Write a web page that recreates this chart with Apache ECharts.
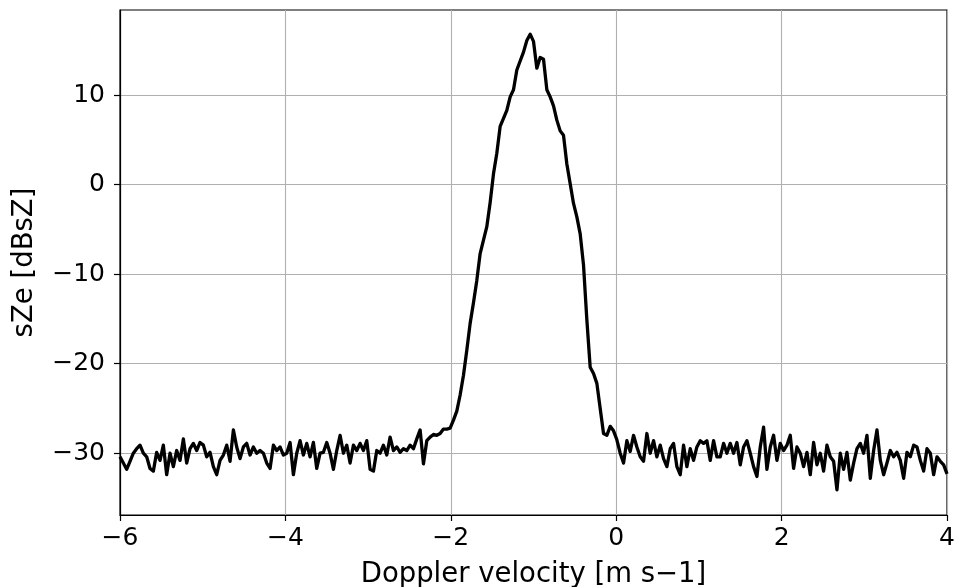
<!DOCTYPE html>
<html>
<head>
  <meta charset="utf-8">
</head>
<body style="margin: 0">
  <div id="container" style="width: 956px; height: 587px"></div>

  <script type="text/javascript" src="https://fastly.jsdelivr.net/npm/echarts@6/dist/echarts.min.js"></script>

  <script type="text/javascript">
    // Doppler spectrum, sampled on a regular velocity grid from vMin to vMax
    var vMin = -6;
    var vMax = 4;

    // spectral reflectivity [dBsZ], left to right
    var sZeNoiseLeft = [
      -30.4, -31.1, -31.8, -30.9, -30.0, -29.5, -29.1, -30.0, -30.4, -31.7, -32.0, -29.9, -30.8, -29.1, -32.4,
      -30.0, -31.5, -29.7, -30.8, -28.4, -31.1, -29.5, -28.9, -29.7, -28.8, -29.1, -30.4, -29.9, -31.5, -32.4,
      -30.8, -30.2, -29.1, -30.9, -27.4, -29.3, -30.6, -29.3, -28.9, -30.2, -29.3, -30.0, -29.7,
      -30.0, -31.1, -31.7, -29.1, -29.7, -29.3, -30.2, -30.0, -28.8, -32.4, -30.0, -28.6, -30.2, -28.9, -30.4,
      -28.8, -31.7, -30.0, -29.9, -28.8, -30.0, -31.8, -29.7, -28.0, -30.0, -29.1, -31.1, -29.1, -29.7, -28.9,
      -29.7, -28.6, -31.8, -32.0, -29.7, -30.0, -29.1, -30.2, -28.2, -29.7, -29.3, -29.9
    ];
    var sZePeak = [
      -29.5, -29.7, -29.1, -29.5, -28.4, -27.4, -31.2, -28.6, -28.2, -27.9, -28.0, -27.8, -27.3, -27.3, -27.2,
      -26.3, -25.3, -23.5,
      -21.3, -18.5, -15.5, -13.2, -10.7, -7.7, -6.2, -4.7, -2.0, 1.2, 3.5, 6.5, 7.4, 8.3, 9.8, 10.6,
      12.8, 13.8, 14.8, 16.1, 16.8, 16.0, 13.0, 14.2, 14.0, 10.6, 9.8, 8.8, 7.2, 6.0, 5.5, 2.3,
      0.1, -2.1, -3.6, -5.5, -9.0, -15.1, -20.4, -21.1, -22.2, -25.0, -27.8, -28.0, -27.0, -27.5, -28.5
    ];
    var sZeNoiseRight = [
      -30.0, -31.1, -28.6, -29.8, -28.0, -29.3, -30.4, -30.9, -27.8, -30.0, -28.6, -30.4, -29.1, -30.6, -31.5,
      -29.5, -28.9, -31.5, -32.4, -29.1, -31.5, -29.5, -30.8, -29.3, -28.6, -28.9, -28.6, -30.8, -28.6, -30.4,
      -30.4, -28.9, -30.0, -28.9, -30.0, -28.8, -31.3, -29.3,
      -28.6, -30.0, -31.5, -32.6, -29.3, -27.1, -31.8, -29.3, -28.0, -30.8, -28.9, -29.7, -29.1, -28.0, -31.7,
      -29.3, -30.0, -31.5, -29.9, -32.4, -28.8, -31.3, -30.0, -32.0, -29.1, -30.4, -30.9, -34.1, -30.0, -31.8,
      -29.9, -33.0, -31.1, -29.5, -28.9, -30.0, -28.0, -32.8, -29.7, -27.4, -30.8, -32.4,
      -31.1, -29.7, -30.4, -29.9, -30.8, -32.8, -29.9, -30.4, -29.1, -29.3, -30.8, -32.0, -29.5, -30.0, -32.4,
      -30.4, -30.9, -31.3, -32.3
    ];

    var xTicks = [-6, -4, -2, 0, 2, 4];
    var yTicks = [-30, -20, -10, 0, 10];

    var sZe = sZeNoiseLeft.concat(sZePeak, sZeNoiseRight);
    var step = (vMax - vMin) / (sZe.length - 1);
    var seriesData = sZe.map(function (v, i) {
      return [vMin + i * step, v];
    });

    function fmt(v) {
      return String(v).replace('-', '\u2212');
    }

    var font = 'DejaVu Sans';
    var dom = document.getElementById('container');
    var myChart = echarts.init(dom, null, { renderer: 'canvas' });

    var option = {
      animation: false,
      backgroundColor: '#ffffff',
      grid: {
        left: 120,
        right: 9,
        top: 10,
        bottom: 72,
        containLabel: false,
        outerBoundsMode: 'none',
        show: true,
        borderColor: '#000000',
        borderWidth: 1.2,
        backgroundColor: 'transparent'
      },
      xAxis: {
        type: 'value',
        min: vMin,
        max: vMax,
        interval: 2,
        name: 'Doppler velocity [m s\u22121]',
        nameLocation: 'middle',
        nameGap: 46,
        nameTextStyle: { fontFamily: font, fontSize: 27.5, color: '#000' },
        axisLine: { show: true, onZero: false, lineStyle: { color: '#000', width: 1.2 } },
        axisTick: { show: true, length: 6, lineStyle: { color: '#000', width: 1.2 }, customValues: xTicks },
        axisLabel: {
          margin: 11,
          fontFamily: font,
          fontSize: 25,
          color: '#000',
          showMinLabel: true,
          showMaxLabel: true,
          customValues: xTicks,
          formatter: fmt
        },
        splitLine: { show: true, lineStyle: { color: '#b0b0b0', width: 1.1 } }
      },
      yAxis: {
        type: 'value',
        min: -36.9,
        max: 19.5,
        name: 'sZe [dBsZ]',
        nameLocation: 'middle',
        nameGap: 81,
        nameTextStyle: { fontFamily: font, fontSize: 27.5, color: '#000' },
        axisLine: { show: true, onZero: false, lineStyle: { color: '#000', width: 1.2 } },
        axisTick: { show: true, length: 6, lineStyle: { color: '#000', width: 1.2 }, customValues: yTicks },
        axisLabel: {
          margin: 15,
          fontFamily: font,
          fontSize: 25,
          color: '#000',
          customValues: yTicks,
          formatter: fmt
        },
        splitLine: { show: true, lineStyle: { color: '#b0b0b0', width: 1.1 } }
      },
      series: [
        {
          type: 'line',
          data: seriesData,
          showSymbol: false,
          symbol: 'none',
          lineStyle: { color: '#000000', width: 3.3, join: 'round' },
          clip: true
        }
      ]
    };

    myChart.setOption(option);
    window.addEventListener('resize', myChart.resize);
  </script>
</body>
</html>
